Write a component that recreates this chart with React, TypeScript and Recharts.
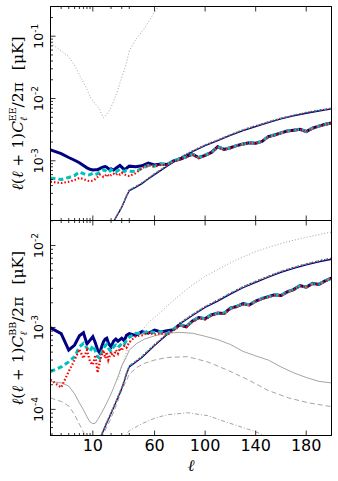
import React from 'react';
import { LineChart, Line, XAxis, YAxis, ReferenceLine } from 'recharts';

// ---------- hybrid multipole axis: log for l <= 40, linear above ----------
const L_MIN = 2;
const L_MAX = 200;
const L_SPLIT = 40;
const LOG_UNIT = 60.5;
const LIN_UNIT = 1.2625;
const tx = (l: number) =>
  l <= L_SPLIT
    ? LOG_UNIT * Math.log10(l / L_MIN)
    : LOG_UNIT * Math.log10(L_SPLIT / L_MIN) + LIN_UNIT * (l - L_SPLIT);

const X_MAJOR = [10, 60, 100, 140, 180];
const X_LABELS = ['10', '60', '100', '140', '180'];
const X_MINOR = [3, 4, 5, 6, 7, 8, 9, 20, 30, 40];

const EE_DOMAIN: [number, number] = [1.1e-4, 0.3];
const BB_DOMAIN: [number, number] = [4.8e-5, 0.0202];

// ---------- data ----------
const L_NOISY = [2, 3, 4, 5, 6, 7, 8, 9, 10, 11, 12, 13, 14, 15, 16, 17, 18, 19, 20,
  22, 24, 26, 28, 30, 33, 36, 40,
  45, 50, 55, 60, 65, 70, 75, 80, 85, 90, 95, 100, 105, 110, 115, 120, 125, 130, 135, 140, 145, 150,
  155, 160, 165, 170, 175, 180, 185, 190, 195, 200];

const EE_NAVY = [1.5e-3, 1.3e-3, 1.13e-3, 1.02e-3, 9.3e-4, 8.4e-4, 7.7e-4, 7.3e-4, 7.1e-4, 7.2e-4,
  7.2e-4, 7.5e-4, 7.8e-4, 8.0e-4, 8.1e-4, 7.9e-4, 7.5e-4, 7.3e-4, 7.4e-4,
  7.1e-4, 7.6e-4, 8.0e-4, 8.4e-4, 7.9e-4, 7.2e-4, 7.6e-4, 8.2e-4,
  8.0e-4, 8.3e-4, 9.2e-4, 8.6e-4, 8.9e-4, 8.7e-4,
  1.0e-3, 1.06e-3, 1.17e-3, 1.28e-3, 1.12e-3, 1.22e-3, 1.36e-3, 1.68e-3, 1.52e-3, 1.62e-3,
  1.75e-3, 1.86e-3, 1.95e-3, 1.92e-3, 2.05e-3, 2.45e-3, 2.6e-3, 2.8e-3, 3.0e-3, 3.1e-3,
  3.2e-3, 2.95e-3, 3.35e-3, 3.6e-3, 3.85e-3, 4.05e-3];
const EE_CYAN = [5.3e-4, 5.0e-4, 5.4e-4, 5.8e-4, 6.6e-4, 6.2e-4, 5.9e-4, 6.0e-4, 6.3e-4, 6.0e-4,
  6.2e-4, 6.6e-4, 6.9e-4, 7.2e-4, 7.0e-4, 6.7e-4, 6.5e-4, 6.8e-4, 7.2e-4,
  6.9e-4, 6.6e-4, 7.0e-4, 7.3e-4, 7.0e-4, 6.7e-4, 7.0e-4, 6.8e-4,
  6.7e-4, 7.6e-4, 8.4e-4, 8.2e-4, 8.8e-4, 8.8e-4,
  1.0e-3, 1.08e-3, 1.15e-3, 1.27e-3, 1.13e-3, 1.24e-3, 1.34e-3, 1.66e-3, 1.54e-3, 1.6e-3,
  1.77e-3, 1.84e-3, 1.97e-3, 1.9e-3, 2.07e-3, 2.42e-3, 2.62e-3, 2.78e-3, 3.02e-3, 3.08e-3,
  3.22e-3, 2.97e-3, 3.33e-3, 3.62e-3, 3.83e-3, 4.08e-3];
const EE_RED = [4.6e-4, 4.4e-4, 4.6e-4, 4.9e-4, 5.3e-4, 5.1e-4, 4.8e-4, 4.7e-4, 4.8e-4, 5.1e-4,
  5.5e-4, 6.0e-4, 5.8e-4, 5.5e-4, 5.7e-4, 6.1e-4, 5.8e-4, 5.6e-4, 5.9e-4,
  6.2e-4, 5.9e-4, 6.3e-4, 6.0e-4, 6.4e-4, 6.1e-4, 5.8e-4, 5.7e-4,
  6.3e-4, 7.6e-4, 8.5e-4, 8.1e-4, 8.6e-4, 8.6e-4,
  9.8e-4, 1.05e-3, 1.14e-3, 1.25e-3, 1.1e-3, 1.21e-3, 1.35e-3, 1.64e-3, 1.5e-3, 1.61e-3,
  1.74e-3, 1.85e-3, 1.93e-3, 1.91e-3, 2.04e-3, 2.4e-3, 2.58e-3, 2.77e-3, 2.98e-3, 3.07e-3,
  3.18e-3, 2.94e-3, 3.3e-3, 3.58e-3, 3.8e-3, 4.02e-3];

const BB_NAVY = [9.9e-4, 8.4e-4, 5.3e-4, 6.1e-4, 7.9e-4, 8.6e-4, 6.3e-4, 7.0e-4, 7.7e-4, 6.5e-4,
  5.3e-4, 4.9e-4, 5.8e-4, 6.7e-4, 7.2e-4, 7.4e-4, 6.5e-4, 6.1e-4, 5.8e-4,
  6.8e-4, 7.2e-4, 6.8e-4, 7.1e-4, 7.4e-4, 6.9e-4, 8.0e-4, 8.4e-4,
  8.0e-4, 8.9e-4, 8.5e-4, 9.3e-4, 8.8e-4, 9.1e-4,
  9.4e-4, 1.08e-3, 1.02e-3, 1.2e-3, 1.32e-3, 1.28e-3, 1.42e-3, 1.5e-3, 1.48e-3, 1.72e-3,
  1.8e-3, 1.95e-3, 1.88e-3, 2.1e-3, 2.25e-3, 2.38e-3, 2.5e-3, 2.45e-3, 2.72e-3, 2.9e-3,
  3.25e-3, 3.1e-3, 3.45e-3, 3.35e-3, 3.7e-3, 4.0e-3];
const BB_CYAN = [2.9e-4, 3.3e-4, 3.8e-4, 4.4e-4, 5.8e-4, 6.4e-4, 5.6e-4, 5.1e-4, 6.0e-4, 5.2e-4,
  4.4e-4, 4.2e-4, 5.0e-4, 5.6e-4, 6.0e-4, 6.2e-4, 5.6e-4, 5.3e-4, 5.1e-4,
  5.8e-4, 6.1e-4, 5.7e-4, 6.0e-4, 6.4e-4, 6.2e-4, 7.0e-4, 7.6e-4,
  8.5e-4, 8.4e-4, 9.0e-4, 8.6e-4, 8.9e-4, 8.4e-4,
  9.6e-4, 1.06e-3, 1.04e-3, 1.18e-3, 1.34e-3, 1.26e-3, 1.44e-3, 1.48e-3, 1.5e-3, 1.7e-3,
  1.82e-3, 1.93e-3, 1.9e-3, 2.08e-3, 2.27e-3, 2.36e-3, 2.52e-3, 2.43e-3, 2.74e-3, 2.88e-3,
  3.22e-3, 3.12e-3, 3.42e-3, 3.38e-3, 3.68e-3, 4.03e-3];
const BB_RED = [2.3e-4, 1.85e-4, 2.9e-4, 4.0e-4, 5.4e-4, 4.2e-4, 5.3e-4, 3.8e-4, 3.5e-4, 4.6e-4,
  2.8e-4, 3.8e-4, 4.6e-4, 5.3e-4, 4.2e-4, 5.0e-4, 4.0e-4, 4.5e-4, 5.0e-4,
  4.4e-4, 5.3e-4, 4.8e-4, 5.6e-4, 5.2e-4, 6.0e-4, 5.7e-4, 6.6e-4,
  7.8e-4, 8.0e-4, 8.6e-4, 8.2e-4, 8.5e-4, 8.1e-4,
  9.3e-4, 1.05e-3, 1.01e-3, 1.17e-3, 1.3e-3, 1.25e-3, 1.4e-3, 1.47e-3, 1.46e-3, 1.69e-3,
  1.78e-3, 1.92e-3, 1.86e-3, 2.07e-3, 2.22e-3, 2.35e-3, 2.47e-3, 2.42e-3, 2.69e-3, 2.86e-3,
  3.2e-3, 3.07e-3, 3.4e-3, 3.32e-3, 3.66e-3, 3.97e-3];

const L_SMOOTH = [12, 14, 16, 19, 22, 24, 26, 28, 30, 33, 36, 40, 45, 50, 55, 60, 70, 80, 90, 100, 110, 120, 130, 140,
  150, 160, 170, 180, 190, 200];
const SM_NAVY = [3.7e-5, 4.9e-5, 6.2e-5, 8.2e-5, 1.05e-4, 1.22e-4, 1.4e-4, 1.58e-4, 1.8e-4, 2.2e-4, 2.7e-4, 3.3e-4,
  3.75e-4, 4.3e-4, 5.1e-4, 6.0e-4, 8.2e-4, 1.1e-3, 1.4e-3, 1.75e-3, 2.1e-3, 2.55e-3, 3.05e-3, 3.55e-3, 4.1e-3, 4.7e-3,
  5.25e-3, 5.8e-3, 6.3e-3, 6.8e-3];
const SM_CYAN = [3.8e-5, 5.0e-5, 6.4e-5, 8.4e-5, 1.08e-4, 1.25e-4, 1.44e-4, 1.62e-4, 1.85e-4, 2.26e-4, 2.78e-4, 3.4e-4,
  3.86e-4, 4.43e-4, 5.25e-4, 6.2e-4, 8.45e-4, 1.13e-3, 1.44e-3, 1.8e-3, 2.16e-3, 2.63e-3, 3.14e-3, 3.66e-3, 4.22e-3,
  4.84e-3, 5.4e-3, 5.97e-3, 6.5e-3, 7.0e-3];
const SM_RED = [3.8e-5, 5.0e-5, 6.3e-5, 8.4e-5, 1.07e-4, 1.25e-4, 1.43e-4, 1.62e-4, 1.84e-4, 2.25e-4, 2.77e-4, 3.39e-4,
  3.85e-4, 4.42e-4, 5.24e-4, 6.18e-4, 8.43e-4, 1.13e-3, 1.44e-3, 1.8e-3, 2.16e-3, 2.62e-3, 3.14e-3, 3.65e-3, 4.22e-3,
  4.83e-3, 5.4e-3, 5.96e-3, 6.48e-3, 7.0e-3];

const L_GDOT_EE = [2, 3, 4, 5, 6, 7, 8, 9, 10, 11, 12, 13, 14, 15, 16, 18, 20, 22, 25, 28, 32, 36, 40, 44, 48, 52, 56, 60, 65];
const EE_GRAY_DOT = [0.078, 0.058, 0.047, 0.034, 0.024, 0.018, 0.014, 0.0107, 0.0092, 0.0082, 0.0074, 0.0067, 0.0055,
  0.0049, 0.0052, 0.006, 0.0072, 0.009, 0.0125, 0.0178, 0.026, 0.038, 0.058, 0.082, 0.105, 0.135, 0.18, 0.245, 0.33];

const L_GSOLID = [2, 3, 4, 5, 6, 7, 8, 9, 10, 11, 12, 14, 16, 19, 22, 26, 30, 36, 40, 46, 52, 60, 70, 80, 90, 100, 110,
  120, 130, 140, 150, 160, 170, 180, 190, 200];
const BB_GRAY_SOLID = [2.2e-4, 2.1e-4, 1.93e-4, 1.55e-4, 1.2e-4, 9.9e-5, 8.1e-5, 7.0e-5, 6.7e-5, 6.8e-5,
  7.5e-5, 9.1e-5, 1.1e-4, 1.42e-4, 1.83e-4, 2.5e-4, 3.4e-4, 4.4e-4, 5.3e-4, 6.4e-4,
  7.2e-4, 7.9e-4, 8.5e-4, 8.7e-4, 8.5e-4, 7.8e-4, 7.1e-4, 6.2e-4, 5.1e-4, 4.5e-4,
  4.0e-4, 3.3e-4, 2.8e-4, 2.45e-4, 2.2e-4, 2.1e-4];

const L_GDASH = [2, 3, 4, 5, 6, 7, 8, 9, 10, 12, 14, 16, 19, 22, 26, 30, 36, 40, 46, 52, 60, 70, 86, 102, 118, 134, 150,
  166, 182, 200];
const BB_GRAY_DASH = [1.38e-4, 1.25e-4, 1.1e-4, 8.6e-5, 6.6e-5, 5.3e-5, 4.4e-5, 3.7e-5, 3.5e-5, 3.8e-5,
  4.6e-5, 5.6e-5, 7.2e-5, 9.3e-5, 1.27e-4, 1.72e-4, 2.25e-4, 2.7e-4, 3.25e-4, 3.65e-4,
  4.0e-4, 4.3e-4, 4.4e-4, 3.8e-4, 3.0e-4, 2.3e-4, 1.7e-4, 1.38e-4, 1.2e-4, 1.08e-4];

const L_GDD = [26, 30, 36, 40, 46, 51, 60, 70, 86, 102, 118, 130, 139, 150, 160];
const BB_GRAY_DASHDOT = [3.4e-5, 4.2e-5, 5.0e-5, 5.5e-5, 6.2e-5, 6.8e-5, 7.8e-5, 8.6e-5, 9.1e-5, 8.4e-5, 6.9e-5, 6.0e-5,
  5.4e-5, 4.6e-5, 4.0e-5];

const L_GDOT_BB = [26, 30, 36, 40, 50, 56, 64, 72, 80, 90, 100, 112, 124, 138, 150, 164, 176, 188, 200];
const BB_GRAY_DOT = [2.3e-4, 3.3e-4, 5.0e-4, 6.5e-4, 9.2e-4, 1.18e-3, 1.5e-3, 1.95e-3, 2.5e-3, 3.3e-3, 4.2e-3, 5.3e-3,
  6.6e-3, 8.2e-3, 9.5e-3, 1.1e-2, 1.22e-2, 1.34e-2, 1.46e-2];

// ---------- helpers ----------
const NAVY = '#000080';
const CYAN = '#00BFBF';
const RED = '#FF0000';
const GRAY = '#9a9a9a';
const SANS = "'DejaVu Sans', sans-serif";
const SERIF = "'DejaVu Serif', serif";

const mk = (ls: number[], vs: number[]) => ls.map((l, i) => ({ x: tx(l), y: vs[i] }));

const X_TICKS = [...X_MAJOR, ...X_MINOR].map(tx);

const logTicks = (lo: number, hi: number) => {
  const out: number[] = [];
  for (let e = -6; e <= 0; e++) {
    for (let m = 1; m <= 9; m++) {
      const v = m * Math.pow(10, e);
      if (v >= lo && v <= hi) out.push(v);
    }
  }
  return out;
};

const xTick = (dir: number, labels: boolean) => (p: any) => {
  const v = p.payload.value;
  const idx = X_MAJOR.findIndex((l) => Math.abs(tx(l) - v) < 1e-6);
  const major = idx >= 0;
  const len = major ? 5 : 2.5;
  return (
    <g>
      <line x1={p.x} x2={p.x} y1={p.y} y2={p.y - dir * len} stroke="#000" strokeWidth={0.8} />
      {labels && major ? (
        <text x={p.x} y={p.y + 15.5} textAnchor="middle" fontFamily={SANS} fontSize={16} fill="#000">
          {X_LABELS[idx]}
        </text>
      ) : null}
    </g>
  );
};

const yTick = (p: any) => {
  const v = p.payload.value;
  const lg = Math.log10(v);
  const e = Math.round(lg);
  const major = Math.abs(lg - e) < 1e-9;
  const bx = p.x - 7;
  return (
    <g>
      <line x1={p.x} x2={p.x + (major ? 5 : 2.5)} y1={p.y} y2={p.y} stroke="#000" strokeWidth={0.8} />
      {major ? (
        <text x={bx} y={p.y} transform={`rotate(-90 ${bx} ${p.y})`} textAnchor="middle" fontFamily={SANS}
          fontSize={12.5} fill="#000">
          10<tspan dy={-5} fontSize={9}>{`-${-e}`}</tspan>
        </text>
      ) : null}
    </g>
  );
};

type S = { data: { x: number; y: number }[]; color: string; width: number; dash?: string };

function Panel(props: { mTop: number; mBottom: number; domain: [number, number]; series: S[]; labels: boolean }) {
  const { mTop, mBottom, domain, series, labels } = props;
  const yt = logTicks(domain[0], domain[1]);
  const xd: [number, number] = [0, tx(L_MAX)];
  return (
    <div style={{ position: 'absolute', left: 0, top: 0 }}>
      <LineChart width={338} height={481} margin={{ top: mTop, right: 5.5, bottom: mBottom, left: 0 }}>
        <XAxis xAxisId="b" type="number" dataKey="x" domain={xd} ticks={X_TICKS} interval={0}
          tick={xTick(1, labels)} tickLine={false} tickSize={0} tickMargin={0} height={1} allowDataOverflow
          stroke="#000" axisLine={{ stroke: '#000', strokeWidth: 1 }} />
        <XAxis xAxisId="t" orientation="top" type="number" dataKey="x" domain={xd} ticks={X_TICKS} interval={0}
          tick={xTick(-1, false)} tickLine={false} tickSize={0} tickMargin={0} height={1} allowDataOverflow
          stroke="#000" axisLine={{ stroke: '#000', strokeWidth: 1 }} />
        <YAxis yAxisId="l" type="number" scale="log" domain={domain} ticks={yt} interval={0} tick={yTick}
          tickLine={false} tickSize={0} tickMargin={0} width={50.5} allowDataOverflow
          stroke="#000" axisLine={{ stroke: '#000', strokeWidth: 1 }} />
        <YAxis yAxisId="r" orientation="right" type="number" scale="log" domain={domain} ticks={yt} tick={false}
          tickLine={false} width={1} allowDataOverflow stroke="#000" axisLine={{ stroke: '#000', strokeWidth: 1 }} />
        <ReferenceLine xAxisId="b" yAxisId="l" x={xd[0]} stroke="#000" strokeWidth={1} />
        <ReferenceLine xAxisId="b" yAxisId="l" x={xd[1]} stroke="#000" strokeWidth={1} />
        <ReferenceLine xAxisId="b" yAxisId="l" y={domain[0]} stroke="#000" strokeWidth={1} />
        <ReferenceLine xAxisId="b" yAxisId="l" y={domain[1]} stroke="#000" strokeWidth={1} />
        {series.map((s, i) => (
          <Line key={i} xAxisId="b" yAxisId="l" data={s.data} dataKey="y" type="linear" stroke={s.color}
            strokeWidth={s.width} strokeDasharray={s.dash} dot={false} activeDot={false} isAnimationActive={false} />
        ))}
      </LineChart>
    </div>
  );
}

const EE_SERIES: S[] = [
  { data: mk(L_GDOT_EE, EE_GRAY_DOT), color: GRAY, width: 0.9, dash: '1 2' },
  { data: mk(L_SMOOTH, SM_NAVY), color: NAVY, width: 1.3 },
  { data: mk(L_SMOOTH, SM_CYAN), color: CYAN, width: 1.3, dash: '3 2' },
  { data: mk(L_SMOOTH, SM_RED), color: RED, width: 1.3, dash: '1 2' },
  { data: mk(L_NOISY, EE_NAVY), color: NAVY, width: 3 },
  { data: mk(L_NOISY, EE_CYAN), color: CYAN, width: 3, dash: '5 3' },
  { data: mk(L_NOISY, EE_RED), color: RED, width: 2.2, dash: '1.5 2' },
];

const BB_SERIES: S[] = [
  { data: mk(L_GDOT_BB, BB_GRAY_DOT), color: GRAY, width: 0.9, dash: '1 2' },
  { data: mk(L_GSOLID, BB_GRAY_SOLID), color: GRAY, width: 0.9 },
  { data: mk(L_GDASH, BB_GRAY_DASH), color: GRAY, width: 0.9, dash: '5 3' },
  { data: mk(L_GDD, BB_GRAY_DASHDOT), color: GRAY, width: 0.9, dash: '4 2 1 2' },
  { data: mk(L_SMOOTH, SM_NAVY), color: NAVY, width: 1.3 },
  { data: mk(L_SMOOTH, SM_CYAN), color: CYAN, width: 1.3, dash: '3 2' },
  { data: mk(L_SMOOTH, SM_RED), color: RED, width: 1.3, dash: '1 2' },
  { data: mk(L_NOISY, BB_NAVY), color: NAVY, width: 3 },
  { data: mk(L_NOISY, BB_CYAN), color: CYAN, width: 3, dash: '5 3' },
  { data: mk(L_NOISY, BB_RED), color: RED, width: 2.2, dash: '1.5 2' },
];

const YTitle = (p: { cx: number; cy: number; sup: string }) => (
  <text transform={`translate(${p.cx},${p.cy}) rotate(-90)`} textAnchor="middle" fontFamily={SERIF} fontSize={15.5}
    fill="#000">
    <tspan fontStyle="italic">ℓ</tspan>
    <tspan>(</tspan>
    <tspan fontStyle="italic">ℓ</tspan>
    <tspan> + 1)</tspan>
    <tspan fontStyle="italic">C</tspan>
    <tspan fontStyle="italic" fontSize={10} dy={3.5}>ℓ</tspan>
    <tspan fontSize={9.5} dx={-4.5} dy={-10.5}>{p.sup}</tspan>
    <tspan dy={7}>/2π</tspan>
    <tspan dx={12}>[μK]</tspan>
  </text>
);

export default function App() {
  return (
    <div style={{ position: 'absolute', left: 0, top: 0, width: 338, height: 481, background: '#fff', overflow: 'hidden' }}>
      <Panel mTop={5.5} mBottom={259.5} domain={EE_DOMAIN} series={EE_SERIES} labels={false} />
      <Panel mTop={219.5} mBottom={44.5} domain={BB_DOMAIN} series={BB_SERIES} labels={true} />
      <svg width={338} height={481} style={{ position: 'absolute', left: 0, top: 0, pointerEvents: 'none' }}>
        <YTitle cx={23} cy={113.5} sup="EE" />
        <YTitle cx={23} cy={328} sup="BB" />
        <text x={191} y={471} textAnchor="middle" fontFamily={SERIF} fontStyle="italic" fontSize={16} fill="#000">
          ℓ
        </text>
      </svg>
    </div>
  );
}
